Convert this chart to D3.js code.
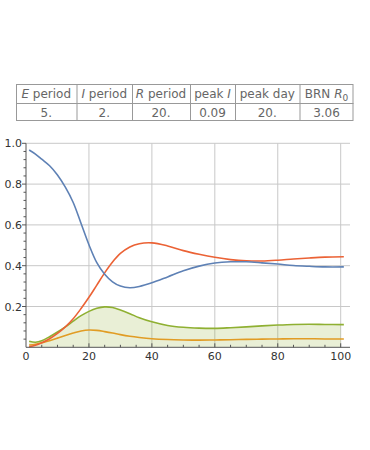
<!DOCTYPE html>
<html>
<head>
<meta charset="utf-8">
<script src="https://cdn.jsdelivr.net/npm/d3@7"></script>
<style>
  body { margin: 0; background: #fff; }
  svg { display: block; font-family: "DejaVu Sans", sans-serif; }
</style>
</head>
<body>
<svg id="chart" width="370" height="450"></svg>
<script>
// Table contents
var headers = [["E", " period"], ["I", " period"], ["R", " period"], ["peak ", "I"], ["peak day"], ["BRN ", "R"]];
var values = ["5.", "2.", "20.", "0.09", "20.", "3.06"];

// Time points and the four series
var days = [1, 3, 5, 7.5, 10, 12.5, 15, 17.5, 20, 22.5, 25, 27.5, 30, 33, 36, 40, 45, 50, 55, 60, 65, 70, 75, 80, 85, 90, 95, 101];
var susceptible = [0.967, 0.947, 0.922, 0.89, 0.845, 0.785, 0.71, 0.607, 0.503, 0.415, 0.358, 0.321, 0.3, 0.292, 0.298, 0.316, 0.345, 0.375, 0.398, 0.413, 0.419, 0.419, 0.414, 0.408, 0.401, 0.397, 0.394, 0.394];
var recovered = [0.003, 0.01, 0.022, 0.042, 0.068, 0.1, 0.14, 0.19, 0.245, 0.305, 0.365, 0.418, 0.46, 0.492, 0.508, 0.512, 0.497, 0.474, 0.456, 0.441, 0.43, 0.424, 0.423, 0.427, 0.433, 0.438, 0.442, 0.444];
var exposedInfected = [0.03, 0.025, 0.032, 0.052, 0.075, 0.1, 0.128, 0.155, 0.176, 0.191, 0.198, 0.195, 0.183, 0.165, 0.145, 0.125, 0.107, 0.098, 0.094, 0.093, 0.096, 0.1, 0.105, 0.109, 0.112, 0.113, 0.112, 0.111];
var infected = [0.011, 0.015, 0.022, 0.032, 0.045, 0.058, 0.07, 0.08, 0.085, 0.083, 0.077, 0.07, 0.062, 0.054, 0.048, 0.042, 0.038, 0.036, 0.035, 0.036, 0.037, 0.039, 0.04, 0.041, 0.042, 0.042, 0.041, 0.041];

var xTicks = [0, 20, 40, 60, 80, 100];
var yTicks = [0.2, 0.4, 0.6, 0.8, 1.0];

var svg = d3.select("#chart");

/* ******** Table ******** */
var colEdges = [16, 76.5, 132, 190, 235, 299.5, 353.5];
var rowEdges = [84, 103, 121];
var tbl = svg.append("g").attr("font-size", 12).attr("fill", "#666");

tbl.append("rect")
  .attr("x", colEdges[0] + 0.5).attr("y", rowEdges[0] + 0.5)
  .attr("width", colEdges[6] - colEdges[0] - 1).attr("height", rowEdges[2] - rowEdges[0] - 1)
  .attr("fill", "none").attr("stroke", "#999");
tbl.append("line")
  .attr("x1", colEdges[0]).attr("x2", colEdges[6])
  .attr("y1", rowEdges[1] + 0.5).attr("y2", rowEdges[1] + 0.5)
  .attr("stroke", "#999");
tbl.selectAll("line.col").data(colEdges.slice(1, 6)).enter()
  .append("line").attr("class", "col")
  .attr("x1", function (d) { return d + 0.5; }).attr("x2", function (d) { return d + 0.5; })
  .attr("y1", rowEdges[0]).attr("y2", rowEdges[2])
  .attr("stroke", "#999");

headers.forEach(function (h, i) {
  var cx = (colEdges[i] + colEdges[i + 1]) / 2;
  var t = tbl.append("text").attr("x", cx).attr("y", 98).attr("text-anchor", "middle");
  if (i < 3) {
    t.append("tspan").attr("font-style", "italic").text(h[0]);
    t.append("tspan").text(h[1]);
  } else if (i == 3) {
    t.append("tspan").text(h[0]);
    t.append("tspan").attr("font-style", "italic").text(h[1]);
  } else if (i == 4) {
    t.text(h[0]);
  } else {
    t.append("tspan").text(h[0]);
    t.append("tspan").attr("font-style", "italic").text(h[1]);
    t.append("tspan").attr("font-size", 9).attr("dy", 3).text("0");
  }
});
tbl.selectAll("text.val").data(values).enter()
  .append("text").attr("class", "val")
  .attr("x", function (d, i) { return (colEdges[i] + colEdges[i + 1]) / 2; })
  .attr("y", 117)
  .attr("text-anchor", "middle")
  .text(function (d) { return d; });

/* ******** Plot ******** */
var x = d3.scaleLinear().domain([0, 100]).range([26, 340.7]);
var y = d3.scaleLinear().domain([0, 1]).range([347.3, 143.3]);
var xEnd = 350;

var grid = svg.append("g").attr("stroke", "#c8c8c8").attr("stroke-width", 1);
grid.selectAll("line.v").data(xTicks.slice(1)).enter()
  .append("line").attr("class", "v")
  .attr("x1", function (d) { return x(d); }).attr("x2", function (d) { return x(d); })
  .attr("y1", y(1)).attr("y2", y(0));
grid.selectAll("line.h").data(yTicks).enter()
  .append("line").attr("class", "h")
  .attr("x1", x(0)).attr("x2", xEnd)
  .attr("y1", function (d) { return y(d); }).attr("y2", function (d) { return y(d); });

function series(vals) {
  return days.map(function (d, i) { return { t: d, v: vals[i] }; });
}

// shaded area under the green curve, cut at day 100
svg.append("clipPath").attr("id", "fillclip")
  .append("rect").attr("x", x(0)).attr("y", y(1)).attr("width", x(100) - x(0)).attr("height", y(0) - y(1));
var area = d3.area()
  .x(function (d) { return x(d.t); })
  .y0(y(0))
  .y1(function (d) { return y(d.v); })
  .curve(d3.curveCatmullRom);
svg.append("path")
  .datum(series(exposedInfected))
  .attr("d", area)
  .attr("clip-path", "url(#fillclip)")
  .attr("fill", "#8fb032").attr("fill-opacity", 0.2);

var line = d3.line()
  .x(function (d) { return x(d.t); })
  .y(function (d) { return y(d.v); })
  .curve(d3.curveCatmullRom);

var lines = [
  { vals: infected, color: "#e19c24" },
  { vals: exposedInfected, color: "#8fb032" },
  { vals: recovered, color: "#eb6235" },
  { vals: susceptible, color: "#5e81b5" }
];
lines.forEach(function (s) {
  svg.append("path")
    .datum(series(s.vals))
    .attr("d", line)
    .attr("fill", "none")
    .attr("stroke", s.color)
    .attr("stroke-width", 1.6);
});

// Axes
var axisColor = "#555";
svg.append("line")
  .attr("x1", x(0)).attr("x2", xEnd).attr("y1", y(0)).attr("y2", y(0))
  .attr("stroke", axisColor);
svg.append("line")
  .attr("x1", x(0)).attr("x2", x(0)).attr("y1", y(0)).attr("y2", y(1))
  .attr("stroke", axisColor);

// x minor ticks (point up)
var xMinor = d3.range(5, 101, 5).filter(function (d) { return d % 20 != 0; });
svg.selectAll("line.xm").data(xMinor).enter()
  .append("line").attr("class", "xm")
  .attr("x1", function (d) { return x(d); }).attr("x2", function (d) { return x(d); })
  .attr("y1", y(0)).attr("y2", y(0) - 2.5)
  .attr("stroke", axisColor);
svg.selectAll("line.xM").data(xTicks.slice(1)).enter()
  .append("line").attr("class", "xM")
  .attr("x1", function (d) { return x(d); }).attr("x2", function (d) { return x(d); })
  .attr("y1", y(0)).attr("y2", y(0) - 4)
  .attr("stroke", axisColor);

// y ticks (point left)
var yMinor = d3.range(0.04, 1.0, 0.04).filter(function (d) { return Math.abs(d / 0.2 - Math.round(d / 0.2)) > 0.01; });
svg.selectAll("line.ym").data(yMinor).enter()
  .append("line").attr("class", "ym")
  .attr("x1", x(0) - 2.5).attr("x2", x(0))
  .attr("y1", function (d) { return y(d); }).attr("y2", function (d) { return y(d); })
  .attr("stroke", axisColor);
svg.selectAll("line.yM").data(yTicks).enter()
  .append("line").attr("class", "yM")
  .attr("x1", x(0) - 4).attr("x2", x(0))
  .attr("y1", function (d) { return y(d); }).attr("y2", function (d) { return y(d); })
  .attr("stroke", axisColor);

var labels = svg.append("g").attr("font-size", 11).attr("fill", "#333");
labels.selectAll("text.xl").data(xTicks).enter()
  .append("text").attr("class", "xl")
  .attr("x", function (d) { return x(d); })
  .attr("y", 360)
  .attr("text-anchor", "middle")
  .text(function (d) { return d; });
labels.selectAll("text.yl").data(yTicks).enter()
  .append("text").attr("class", "yl")
  .attr("x", 22)
  .attr("y", function (d) { return y(d) + 4; })
  .attr("text-anchor", "end")
  .text(function (d) { return d3.format(".1f")(d); });
</script>
</body>
</html>
